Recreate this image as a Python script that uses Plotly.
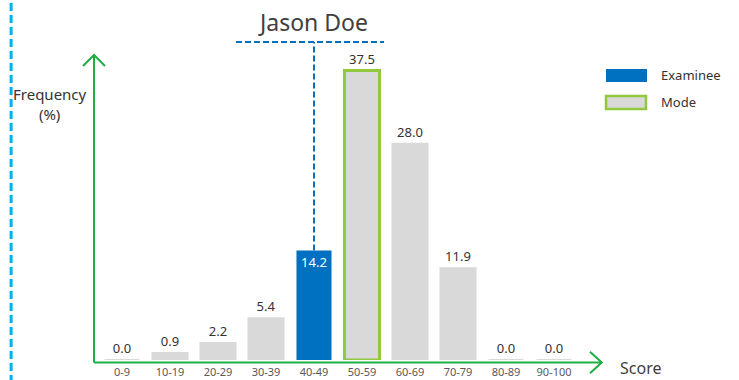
import plotly.graph_objects as go

# Score distribution (percentage of examinees per score band)
score_bands = ["0-9", "10-19", "20-29", "30-39", "40-49",
               "50-59", "60-69", "70-79", "80-89", "90-100"]
frequency = [0.0, 0.9, 2.2, 5.4, 14.2, 37.5, 28.0, 11.9, 0.0, 0.0]
examinee_band = "40-49"
examinee_name = "Jason Doe"

GREY = "#D9D9D9"
BLUE = "#0070C0"
MODE_GREEN = "#92C83E"
AXIS_GREEN = "#1DAF45"
TEXT = "#333333"

mode_idx = frequency.index(max(frequency))
ex_idx = score_bands.index(examinee_band)

fill, line_col, line_w, text_pos, text_col = [], [], [], [], []
for i, v in enumerate(frequency):
    if i == ex_idx:
        fill.append(BLUE); line_col.append(BLUE); line_w.append(0)
        text_pos.append("inside"); text_col.append("white")
    elif i == mode_idx:
        fill.append(GREY); line_col.append(MODE_GREEN); line_w.append(3)
        text_pos.append("outside"); text_col.append(TEXT)
    else:
        fill.append(GREY); line_col.append(GREY); line_w.append(2)
        text_pos.append("outside"); text_col.append(TEXT)

fig = go.Figure()
fig.add_trace(go.Bar(
    x=score_bands, y=frequency,
    marker=dict(color=fill, line=dict(color=line_col, width=line_w)),
    width=0.73,
    text=[f"{v:.1f}" for v in frequency],
    textposition=text_pos,
    insidetextanchor="end",
    textfont=dict(color=text_col, size=13, family="Noto Sans"),
    outsidetextfont=dict(color=TEXT, size=13, family="Noto Sans"),
    insidetextfont=dict(color="white", size=13, family="Noto Sans"),
    constraintext="none",
    cliponaxis=False,
    showlegend=False,
    hoverinfo="skip",
))

Y_MAX = 42.75
fig.update_layout(
    width=739, height=380,
    margin=dict(l=98, r=161, t=30, b=20, autoexpand=False),
    plot_bgcolor="white", paper_bgcolor="white",
    bargap=0.27,
    xaxis=dict(
        range=[-0.5, 9.5], showgrid=False, zeroline=False, showline=False,
        ticks="outside", ticklen=2, tickcolor="rgba(0,0,0,0)",
        tickfont=dict(size=11, color="#595959", family="Noto Sans"),
        automargin=False, fixedrange=True,
    ),
    yaxis=dict(
        range=[0, Y_MAX], showgrid=False, zeroline=False, showline=False,
        showticklabels=False, automargin=False, fixedrange=True,
    ),
    font=dict(family="Noto Sans", color=TEXT),
)

shapes = []
# left dashed border
shapes.append(dict(type="line", xref="paper", yref="paper",
                   x0=-0.181, x1=-0.181, y0=-0.07, y1=1.1,
                   line=dict(color="#00B0F0", width=3, dash="8px,4px")))
# axes with arrowheads (green)
ax_line = dict(color=AXIS_GREEN, width=2)
shapes += [
    dict(type="line", xref="paper", yref="paper", x0=-0.0083, x1=-0.0083,
         y0=-0.0076, y1=0.9242, line=ax_line),
    dict(type="path", xref="paper", yref="paper",
         path="M -0.0313,0.8909 L -0.0083,0.9242 L 0.0146,0.8909", line=ax_line),
    dict(type="line", xref="paper", yref="paper", x0=-0.0083, x1=1.0494,
         y0=-0.0076, y1=-0.0076, line=ax_line),
    dict(type="path", xref="paper", yref="paper",
         path="M 1.025,0.025 L 1.0494,-0.0076 L 1.025,-0.040", line=ax_line),
]
# connector from the examinee's bar up to the name
dash_line = dict(color=BLUE, width=2, dash="6px,3px")
top_y = (360 - 42) / 7.72
shapes.append(dict(type="line", xref="x", yref="y",
                   x0=examinee_band, x1=examinee_band,
                   y0=frequency[ex_idx], y1=top_y, line=dash_line))
shapes.append(dict(type="line", xref="paper", yref="y",
                   x0=(236 - 98) / 480, x1=(384 - 98) / 480,
                   y0=top_y, y1=top_y, line=dash_line))
# legend swatches
shapes.append(dict(type="rect", xref="paper", yref="paper",
                   x0=(606 - 98) / 480, x1=(647 - 98) / 480,
                   y0=(360 - 82) / 330, y1=(360 - 69) / 330,
                   fillcolor=BLUE, line=dict(width=0)))
shapes.append(dict(type="rect", xref="paper", yref="paper",
                   x0=(606 - 98) / 480, x1=(646 - 98) / 480,
                   y0=(360 - 109) / 330, y1=(360 - 96) / 330,
                   fillcolor=GREY, line=dict(color=MODE_GREEN, width=2.5)))

annotations = [
    dict(text=examinee_name, xref="paper", yref="paper",
         x=(313 - 98) / 480, y=(360 - 22) / 330, showarrow=False,
         font=dict(size=23, color="#404040", family="Noto Sans"),
         xanchor="center", yanchor="middle"),
    dict(text="Frequency<br>(%)", xref="paper", yref="paper",
         x=(50 - 98) / 480, y=(360 - 104) / 330, showarrow=False,
         font=dict(size=15, color=TEXT, family="Noto Sans"),
         xanchor="center", yanchor="middle", align="center"),
    dict(text="Score", xref="paper", yref="paper",
         x=(640 - 98) / 480, y=(360 - 368) / 330, showarrow=False,
         font=dict(size=16, color="#404040", family="Noto Sans"),
         xanchor="center", yanchor="middle"),
    dict(text="Examinee", xref="paper", yref="paper",
         x=(659 - 98) / 480, y=(360 - 75) / 330, showarrow=False,
         font=dict(size=13, color=TEXT, family="Noto Sans"),
         xanchor="left", yanchor="middle"),
    dict(text="Mode", xref="paper", yref="paper",
         x=(659 - 98) / 480, y=(360 - 102) / 330, showarrow=False,
         font=dict(size=13, color=TEXT, family="Noto Sans"),
         xanchor="left", yanchor="middle"),
]

fig.update_layout(shapes=shapes, annotations=annotations)
fig.write_html("out.html")
